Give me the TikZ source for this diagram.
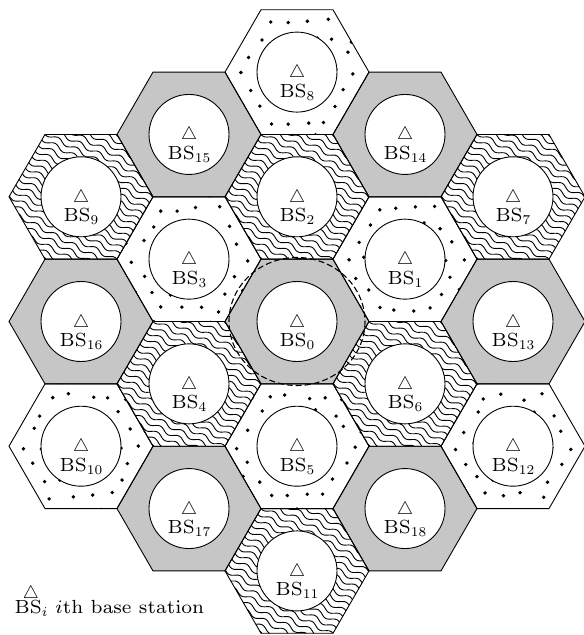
\documentclass[tikz,border=0pt]{standalone}
\font\bsfont=cmr7 at 19pt
\font\subfont=cmr7 at 13.5pt
\font\trifont=cmsy10 at 18pt
\font\itfont=cmmi7 at 19pt
\font\subitfont=cmmi7 at 13.5pt
\newcommand\trisym{{\trifont\char"34}}
\newcommand\bsname[1]{{\bsfont BS}\raisebox{-3pt}{\subfont #1}}
\newcommand\hexpath{(72,0) -- (36,62.35) -- (-36,62.35) -- (-72,0) -- (-36,-62.35) -- (36,-62.35) -- cycle}
\tikzset{
  hexline/.style={draw=black, line width=0.9pt, line join=miter},
  grayfill/.style={fill=gray!45},
  whitefill/.style={fill=white},
  wave/.style={draw=black, line width=0.9pt},
  ring/.style={draw=black, fill=white, line width=0.9pt},
  tri/.style={anchor=base, inner sep=0pt},
  bslabel/.style={anchor=base, inner sep=0pt},
  dashring/.style={draw=black, line width=1.1pt, dash pattern=on 6pt off 3pt},
}
\newcommand\ringlabel[1]{%
  \draw[ring] (0,0) circle[radius=40];
  \node[tri] (t#1) at (0,5.5) {\trisym};
  \node[bslabel] (bs#1) at (0,25) {\bsname{#1}};
}
\newcommand\graycell[3]{%
  \begin{scope}[shift={(#1,#2)}]
    \fill[grayfill] \hexpath;
    \ringlabel{#3}
  \end{scope}}
\newcommand\wavecell[3]{%
  \begin{scope}[shift={(#1,#2)}]
    \fill[whitefill] \hexpath;
    \begin{scope}
      \clip \hexpath;
      \foreach \k in {-13,...,13}{
        \draw[wave] plot[domain=-95:95, samples=90, smooth, variable=\t]
          ({\t*cos(28) - (\k*6.6 + 2.1*sin(\t*17))*sin(28)},
           {\t*sin(28) + (\k*6.6 + 2.1*sin(\t*17))*cos(28)});
      }
    \end{scope}
    \ringlabel{#3}
  \end{scope}}
\newcommand\dotcell[4]{%
  \begin{scope}[shift={(#1,#2)}]
    \fill[whitefill] \hexpath;
    \begin{scope}
      \clip \hexpath;
      \pgfmathsetseed{#4}
      \foreach \i in {-5,...,5}{
        \foreach \j in {-4,...,4}{
          \pgfmathsetmacro\dx{\i*19 + mod(abs(\j),2)*9.5 + 3.5*rand}
          \pgfmathsetmacro\dy{\j*16.5 + 3.5*rand}
          \fill[black] (\dx,\dy) circle[radius=1.9];
        }
      }
    \end{scope}
    \ringlabel{#3}
  \end{scope}}
\newcommand\hexedge[2]{\draw[hexline] ([shift={(#1,#2)}]72,0) -- ([shift={(#1,#2)}]36,62.35) -- ([shift={(#1,#2)}]-36,62.35) -- ([shift={(#1,#2)}]-72,0) -- ([shift={(#1,#2)}]-36,-62.35) -- ([shift={(#1,#2)}]36,-62.35) -- cycle;}
\begin{document}
\begin{tikzpicture}[x=1pt, y=-1pt]
\useasboundingbox (0,0) rectangle (584,635);
% centre column
\dotcell{297}{72.1}{8}{11}
\wavecell{297}{196.8}{2}
\graycell{297}{321.5}{0}
\dotcell{297}{446.2}{5}{23}
\wavecell{297}{570.9}{11}
% column left
\graycell{189}{134.45}{15}
\dotcell{189}{259.15}{3}{37}
\wavecell{189}{383.85}{4}
\graycell{189}{508.55}{17}
% column right
\graycell{405}{134.45}{14}
\dotcell{405}{259.15}{1}{41}
\wavecell{405}{383.85}{6}
\graycell{405}{508.55}{18}
% far left
\wavecell{81}{196.8}{9}
\graycell{81}{321.5}{16}
\dotcell{81}{446.2}{10}{53}
% far right
\wavecell{513}{196.8}{7}
\graycell{513}{321.5}{13}
\dotcell{513}{446.2}{12}{67}
% outlines
\hexedge{297}{72.1}
\hexedge{297}{196.8}
\hexedge{297}{321.5}
\hexedge{297}{446.2}
\hexedge{297}{570.9}
\hexedge{189}{134.45}
\hexedge{189}{259.15}
\hexedge{189}{383.85}
\hexedge{189}{508.55}
\hexedge{405}{134.45}
\hexedge{405}{259.15}
\hexedge{405}{383.85}
\hexedge{405}{508.55}
\hexedge{81}{196.8}
\hexedge{81}{321.5}
\hexedge{81}{446.2}
\hexedge{513}{196.8}
\hexedge{513}{321.5}
\hexedge{513}{446.2}
% dashed ring round BS0
\draw[dashring] (297,321.5) ellipse [x radius=68, y radius=64];
% legend
\node[tri] (legtri) at (31,598) {\trisym};
\node[bslabel] (legbs) at (31,613) {{\bsfont BS}\raisebox{-3pt}{\subitfont i}};
\node[anchor=base west, inner sep=0pt] (legtext) at (55,613) {{\itfont i}\bsfont th base station};
\end{tikzpicture}
\end{document}
